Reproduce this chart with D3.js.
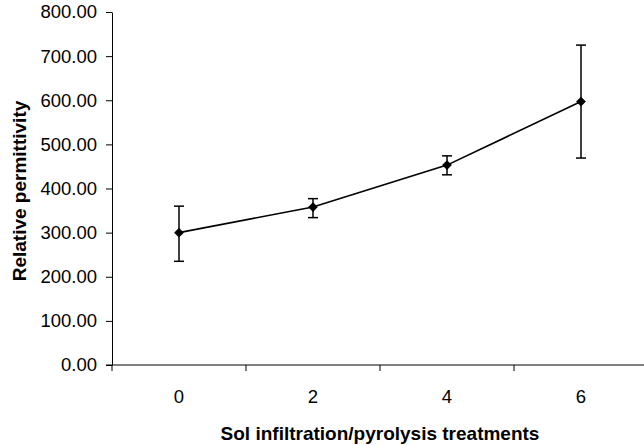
<!DOCTYPE html>
<html>
<head>
<meta charset="utf-8">
<script src="https://cdn.jsdelivr.net/npm/d3@7"></script>
<style>
  body { margin: 0; background: #fff; }
  svg { display: block; font-family: "Liberation Sans", Arial, sans-serif; }
  .axis path, .axis line { stroke: #000; stroke-width: 1; }
  .axis text { fill: #000; font-size: 18.5px; }
</style>
</head>
<body>
<svg width="644" height="445"></svg>
<script>
// treatments on the x axis
const treatments = ["0", "2", "4", "6"];
// relative permittivity (mean) and error bar ends
const means = [300, 358, 453, 597];
const upper = [360, 377, 474, 725];
const lower = [235, 334, 431, 469];
const yTicks = [0, 100, 200, 300, 400, 500, 600, 700, 800];

function draw() {
    const svg = d3.select("svg");

    const left = 112, right = 648, top = 12, bottom = 365;

    const x = d3.scaleBand()
        .domain(treatments)
        .range([left, right])
        .padding(0);

    const y = d3.scaleLinear()
        .domain([0, 800])
        .range([bottom, top]);

    // y axis
    svg.append("g")
        .attr("class", "axis")
        .attr("transform", `translate(${left},0)`)
        .call(d3.axisLeft(y).tickValues(yTicks).tickFormat(d3.format(".2f")).tickSize(6).tickSizeOuter(0))
        .call(g => g.selectAll("text").attr("x", -15));

    // x axis: line plus ticks at the category boundaries
    const xg = svg.append("g").attr("class", "axis");
    xg.append("line")
        .attr("x1", left - 6).attr("x2", right)
        .attr("y1", bottom).attr("y2", bottom);
    const edges = treatments.map(d => x(d)).concat([x(treatments[treatments.length - 1]) + x.bandwidth()]);
    xg.selectAll(".tk")
        .data(edges)
        .enter().append("line")
        .attr("class", "tk")
        .attr("x1", d => d).attr("x2", d => d)
        .attr("y1", bottom).attr("y2", bottom + 6);
    xg.selectAll(".lbl")
        .data(treatments)
        .enter().append("text")
        .attr("class", "lbl")
        .attr("x", d => x(d) + x.bandwidth() / 2)
        .attr("y", 403)
        .attr("text-anchor", "middle")
        .text(d => d);

    // axis titles
    svg.append("text")
        .attr("x", (left + right) / 2)
        .attr("y", 440)
        .attr("text-anchor", "middle")
        .attr("font-size", "19px")
        .attr("font-weight", "bold")
        .text("Sol infiltration/pyrolysis treatments");

    svg.append("text")
        .attr("transform", "translate(26,191) rotate(-90)")
        .attr("text-anchor", "middle")
        .attr("font-size", "19px")
        .attr("font-weight", "bold")
        .text("Relative permittivity");

    const pts = treatments.map((t, i) => ({ t, m: means[i], hi: upper[i], lo: lower[i] }));
    const cx = d => x(d.t) + x.bandwidth() / 2;

    // error bars
    const eb = svg.append("g")
        .selectAll("g")
        .data(pts)
        .enter().append("g")
        .attr("stroke", "#000")
        .attr("stroke-width", 1.5);
    eb.append("line")
        .attr("x1", cx).attr("x2", cx)
        .attr("y1", d => y(d.hi)).attr("y2", d => y(d.lo));
    eb.append("line")
        .attr("x1", d => cx(d) - 5).attr("x2", d => cx(d) + 5)
        .attr("y1", d => y(d.hi)).attr("y2", d => y(d.hi));
    eb.append("line")
        .attr("x1", d => cx(d) - 5).attr("x2", d => cx(d) + 5)
        .attr("y1", d => y(d.lo)).attr("y2", d => y(d.lo));

    // line
    svg.append("path")
        .datum(pts)
        .attr("fill", "none")
        .attr("stroke", "#000")
        .attr("stroke-width", 1.6)
        .attr("d", d3.line().x(cx).y(d => y(d.m)));

    // diamond markers
    svg.append("g")
        .selectAll("path")
        .data(pts)
        .enter().append("path")
        .attr("d", d3.symbol().type(d3.symbolDiamond2).size(60))
        .attr("transform", d => `translate(${cx(d)},${y(d.m)})`)
        .attr("fill", "#000");
}

document.addEventListener("DOMContentLoaded", draw);
</script>
</body>
</html>
